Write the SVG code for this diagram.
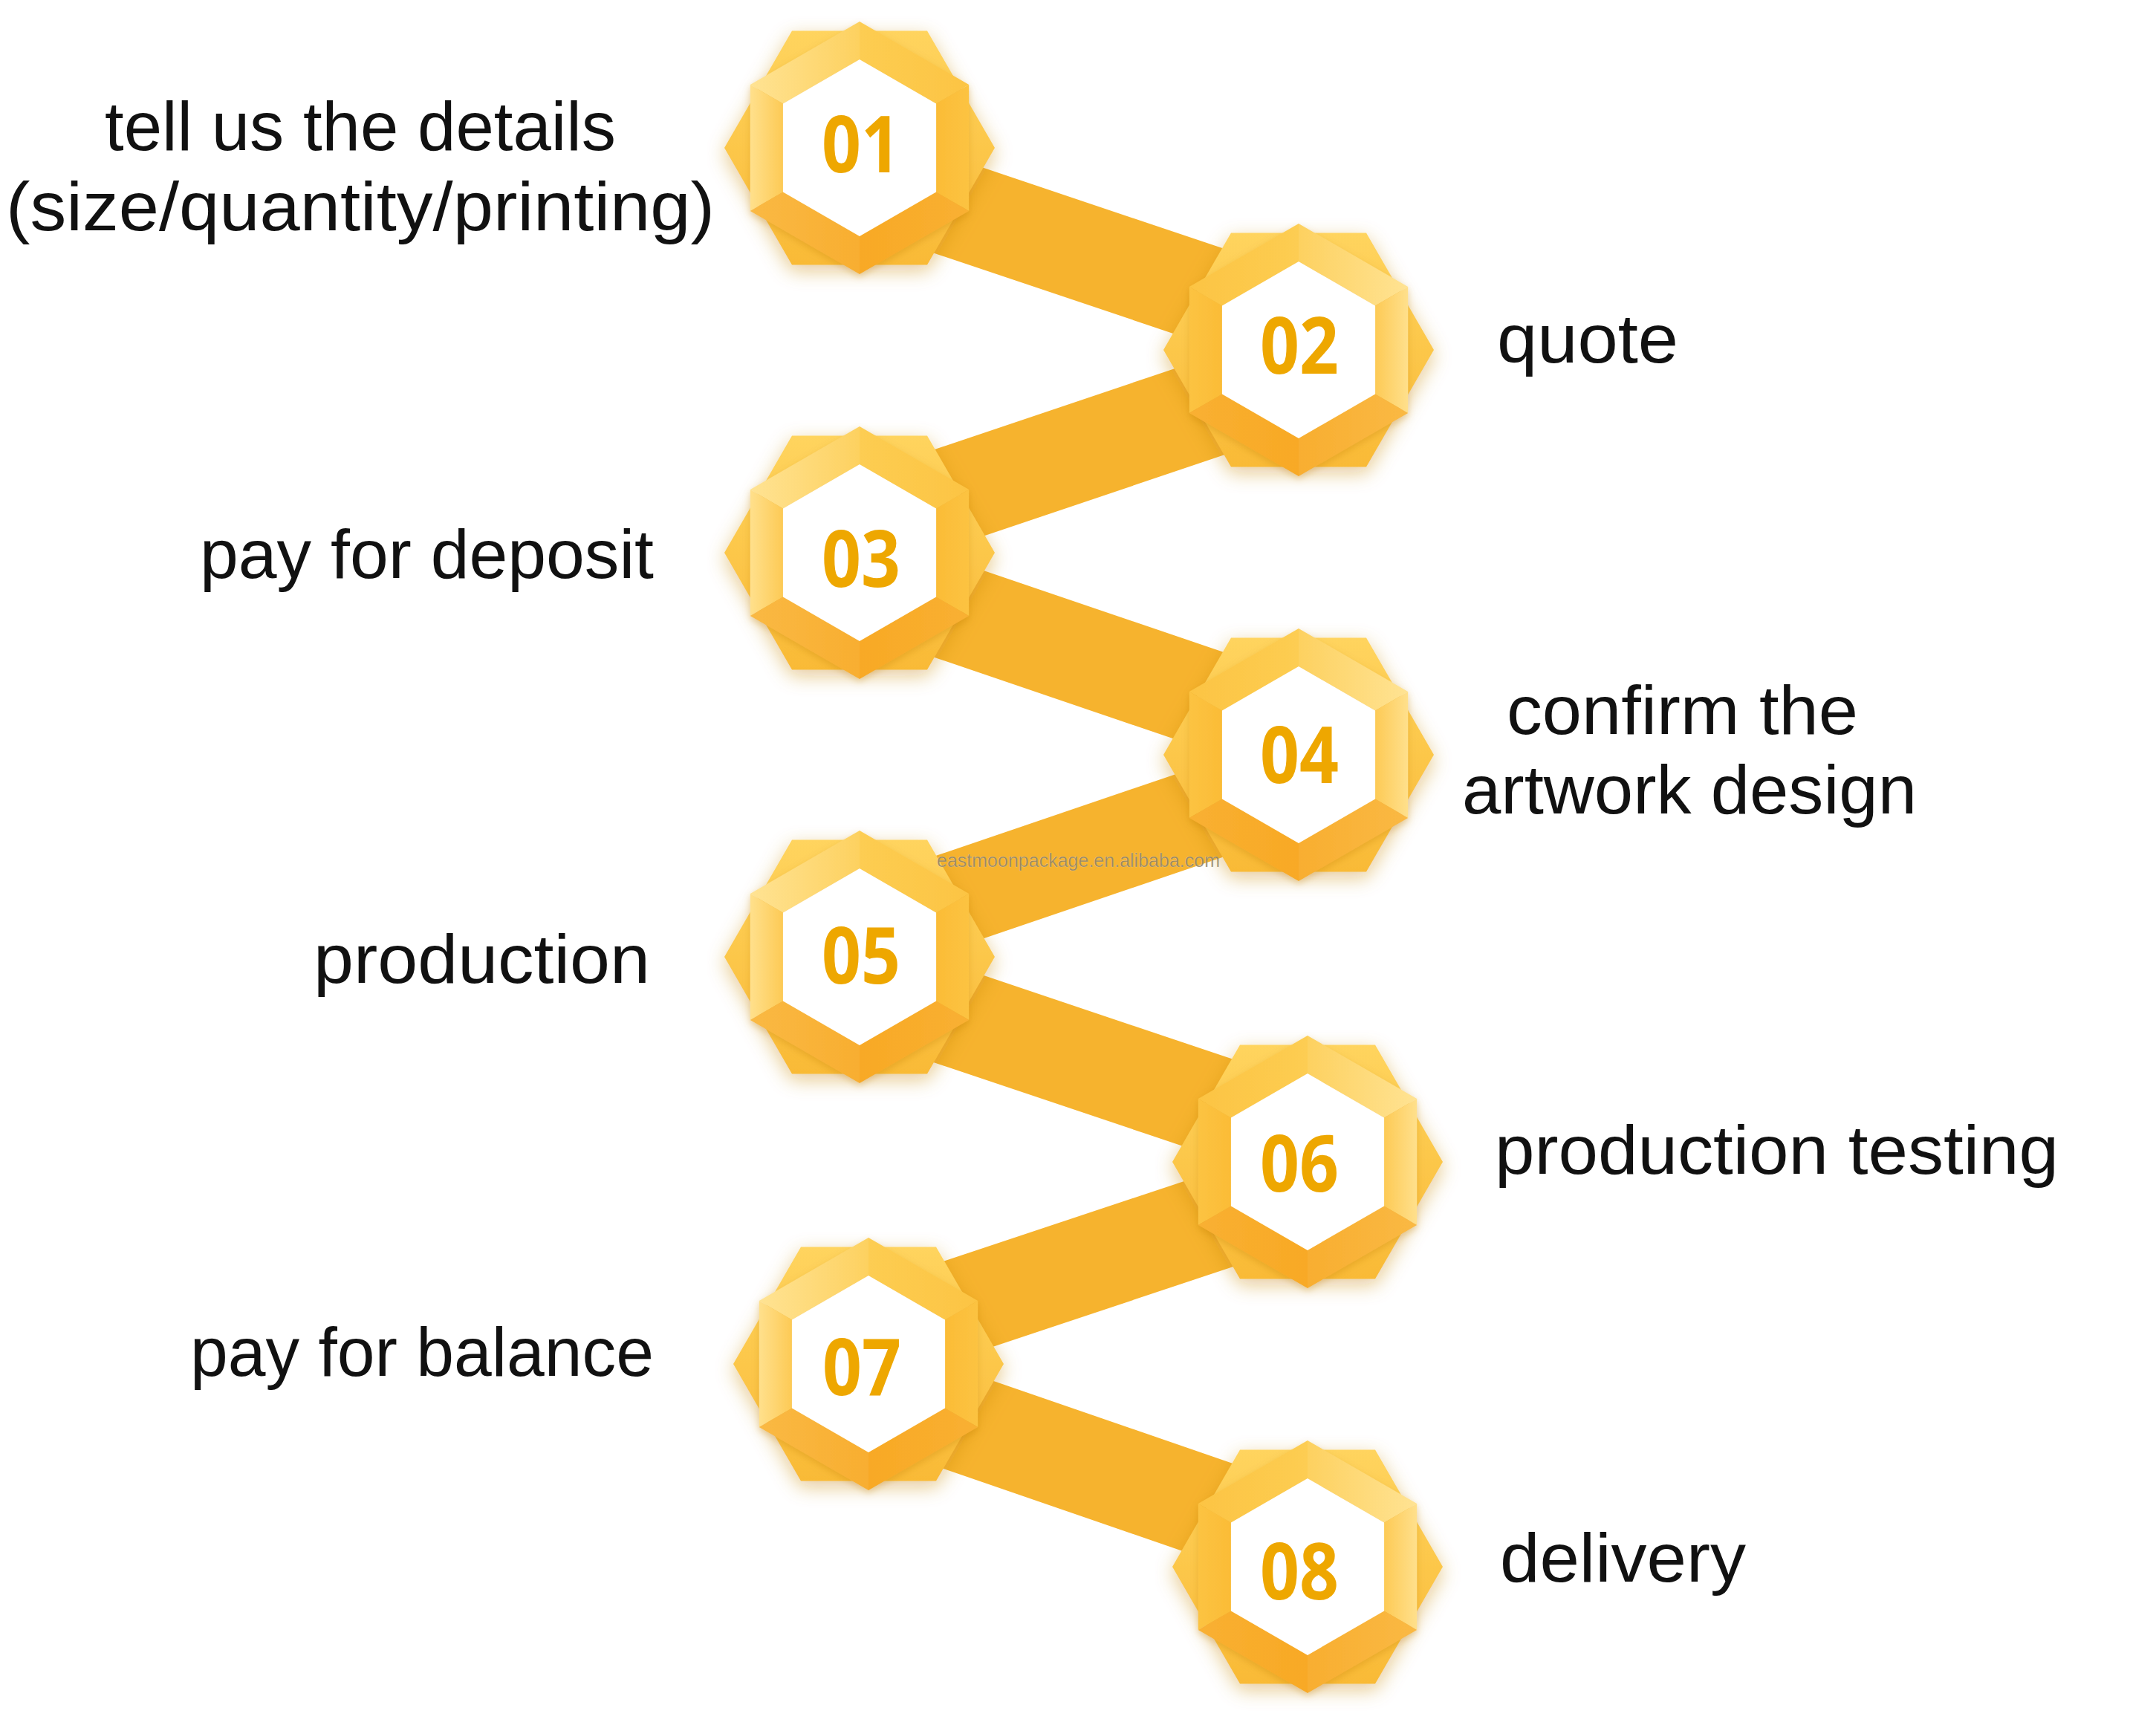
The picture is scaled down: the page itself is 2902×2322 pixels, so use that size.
<svg xmlns="http://www.w3.org/2000/svg" xmlns:xlink="http://www.w3.org/1999/xlink" width="2902" height="2322" viewBox="0 0 2902 2322">
<style>
.lbl{font-family:"Liberation Sans",Arial,sans-serif;font-size:93px;fill:#111111;}
.num{font-family:"Open Sans","Noto Sans","Liberation Sans",sans-serif;font-size:106px;font-weight:700;fill:#EEA700;text-anchor:middle;}
.band{fill:#F6B32E;}
.wm{font-family:"Liberation Sans",Arial,sans-serif;font-size:25px;fill:#8E8060;fill-opacity:0.9;stroke:#ffffff;stroke-opacity:0.3;stroke-width:0.6;}
</style>
<defs>
<filter id="glow" x="-40%" y="-40%" width="180%" height="180%">
<feDropShadow dx="0" dy="8" stdDeviation="13" flood-color="#C98A1E" flood-opacity="0.45"/>
</filter>
<filter id="fsh" x="-20%" y="-20%" width="140%" height="140%">
<feDropShadow dx="0" dy="4" stdDeviation="5" flood-color="#C07A10" flood-opacity="0.3"/>
</filter>
<linearGradient id="backG" x1="0" y1="0" x2="0" y2="1"><stop offset="0" stop-color="#FFD45E"/><stop offset="1" stop-color="#F9BA36"/></linearGradient>
<linearGradient id="gTL" x1="0" y1="0" x2="1" y2="0"><stop offset="0" stop-color="#FFE393"/><stop offset="1" stop-color="#FDD160"/></linearGradient>
<linearGradient id="gTR" x1="0" y1="0" x2="1" y2="0"><stop offset="0" stop-color="#FDCD52"/><stop offset="1" stop-color="#FCC443"/></linearGradient>
<linearGradient id="gL" x1="0" y1="0" x2="1" y2="0"><stop offset="0" stop-color="#FFE08C"/><stop offset="1" stop-color="#FDCA55"/></linearGradient>
<linearGradient id="gR" x1="0" y1="0" x2="1" y2="0"><stop offset="0" stop-color="#FBBC36"/><stop offset="1" stop-color="#FCC342"/></linearGradient>
<linearGradient id="gBL" x1="0" y1="0" x2="1" y2="0"><stop offset="0" stop-color="#FAB944"/><stop offset="1" stop-color="#F8AE30"/></linearGradient>
<linearGradient id="gBR" x1="0" y1="0" x2="1" y2="0"><stop offset="0" stop-color="#F8A925"/><stop offset="1" stop-color="#F9B032"/></linearGradient>
<g id="gem">
<polygon points="182,0 91,157.6 -91,157.6 -182,0 -91,-157.6 91,-157.6" fill="url(#backG)" filter="url(#glow)"/>
<g filter="url(#fsh)">
<polygon points="0,-170 -147.2,-85 -103.1,-59.5 0,-119" fill="url(#gTL)"/>
<polygon points="0,-170 147.2,-85 103.1,-59.5 0,-119" fill="url(#gTR)"/>
<polygon points="-147.2,-85 -147.2,85 -103.1,59.5 -103.1,-59.5" fill="url(#gL)"/>
<polygon points="147.2,-85 147.2,85 103.1,59.5 103.1,-59.5" fill="url(#gR)"/>
<polygon points="-147.2,85 0,170 0,119 -103.1,59.5" fill="url(#gBL)"/>
<polygon points="147.2,85 0,170 0,119 103.1,59.5" fill="url(#gBR)"/>
</g>
<polygon points="0,-119 103.1,-59.5 103.1,59.5 0,119 -103.1,59.5 -103.1,-59.5" fill="#ffffff"/>
</g>
</defs>
<rect width="2902" height="2322" fill="#ffffff"/>
<g id="connectors">
<polygon class="band" points="1157,169.9 1748,368.5 1748,505.7 1157,307.1"/>
<polygon class="band" points="1748,439.9 1157,639 1157,777.8 1748,578.6"/>
<polygon class="band" points="1157,711.2 1748,912.2 1748,1051.6 1157,850.7"/>
<polygon class="band" points="1748,985.9 1157,1186.8 1157,1320 1748,1119"/>
<polygon class="band" points="1157,1256.9 1760,1459.5 1760,1599.2 1157,1396.6"/>
<polygon class="band" points="1760,1534.7 1169,1731.3 1169,1868.7 1760,1671.7"/>
<polygon class="band" points="1169,1800.9 1760,2004.7 1760,2146 1169,1942.1"/>
</g>
<g id="node-01">
<use xlink:href="#gem" href="#gem" transform="translate(1157,199)"/>
<text class="num" x="1159" y="232" textLength="106" lengthAdjust="spacingAndGlyphs">01</text>
<text class="lbl" x="485" y="202" text-anchor="middle" textLength="688" lengthAdjust="spacingAndGlyphs">tell us the details</text>
<text class="lbl" x="485" y="310" text-anchor="middle" textLength="954" lengthAdjust="spacingAndGlyphs">(size/quantity/printing)</text>
</g>
<g id="node-02">
<use xlink:href="#gem" href="#gem" transform="translate(1748,471) scale(-1,1)"/>
<text class="num" x="1749" y="503" textLength="106" lengthAdjust="spacingAndGlyphs">02</text>
<text class="lbl" x="2015" y="488" textLength="244" lengthAdjust="spacingAndGlyphs">quote</text>
</g>
<g id="node-03">
<use xlink:href="#gem" href="#gem" transform="translate(1157,744)"/>
<text class="num" x="1159" y="790" textLength="106" lengthAdjust="spacingAndGlyphs">03</text>
<text class="lbl" x="269" y="778" textLength="611" lengthAdjust="spacingAndGlyphs">pay for deposit</text>
</g>
<g id="node-04">
<use xlink:href="#gem" href="#gem" transform="translate(1748,1016) scale(-1,1)"/>
<text class="num" x="1749" y="1054" textLength="106" lengthAdjust="spacingAndGlyphs">04</text>
<text class="lbl" x="2028" y="988" textLength="473" lengthAdjust="spacingAndGlyphs">confirm the</text>
<text class="lbl" x="1968" y="1095" textLength="612" lengthAdjust="spacingAndGlyphs">artwork design</text>
</g>
<g id="node-05">
<use xlink:href="#gem" href="#gem" transform="translate(1157,1288)"/>
<text class="num" x="1159" y="1324" textLength="106" lengthAdjust="spacingAndGlyphs">05</text>
<text class="lbl" x="422" y="1323" textLength="453" lengthAdjust="spacingAndGlyphs">production</text>
</g>
<g id="node-06">
<use xlink:href="#gem" href="#gem" transform="translate(1760,1564) scale(-1,1)"/>
<text class="num" x="1749" y="1604" textLength="106" lengthAdjust="spacingAndGlyphs">06</text>
<text class="lbl" x="2012" y="1580" textLength="759" lengthAdjust="spacingAndGlyphs">production testing</text>
</g>
<g id="node-07">
<use xlink:href="#gem" href="#gem" transform="translate(1169,1836)"/>
<text class="num" x="1160" y="1878" textLength="106" lengthAdjust="spacingAndGlyphs">07</text>
<text class="lbl" x="256" y="1852" textLength="624" lengthAdjust="spacingAndGlyphs">pay for balance</text>
</g>
<g id="node-08">
<use xlink:href="#gem" href="#gem" transform="translate(1760,2109) scale(-1,1)"/>
<text class="num" x="1749" y="2153" textLength="106" lengthAdjust="spacingAndGlyphs">08</text>
<text class="lbl" x="2019" y="2129" textLength="331" lengthAdjust="spacingAndGlyphs">delivery</text>
</g>
<g id="watermark">
<text class="wm" x="1261" y="1167" textLength="381" lengthAdjust="spacingAndGlyphs">eastmoonpackage.en.alibaba.com</text>
</g>
</svg>
